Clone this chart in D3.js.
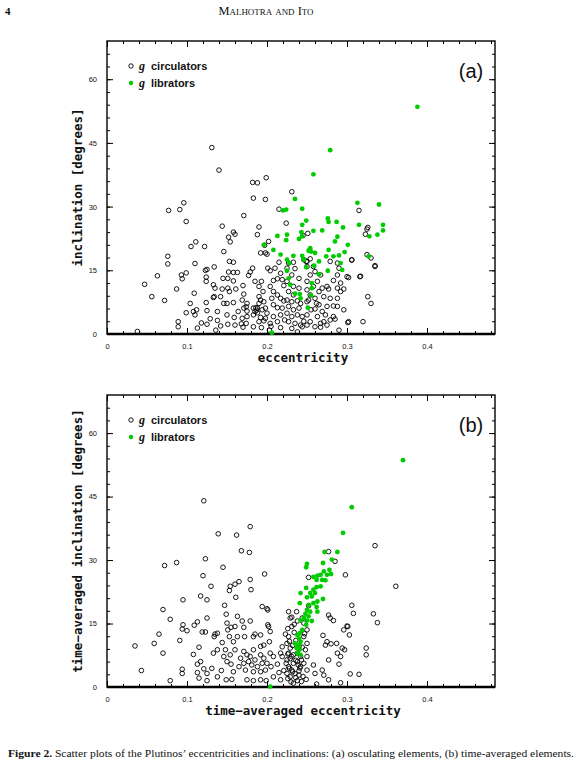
<!DOCTYPE html>
<html>
<head>
<meta charset="utf-8">
<script src="https://cdn.jsdelivr.net/npm/d3@7"></script>
<style>
  body { margin: 0; background: #fff; }
  svg text { fill: #111; }
</style>
</head>
<body>
<div id="page"></div>
<script>
// osculating elements, panel (a): [eccentricity, inclination]
const oscCirculators = [
  [.131,43.9],[.140,38.6],[.182,35.7],[.188,35.6],[.199,36.8],[.231,33.5],[.183,32.0],[.198,31.7],
  [.077,29.1],[.091,29.3],[.096,30.9],[.099,26.5],[.171,27.9],[.215,29.4],[.224,26.1],[.190,25.2],
  [.188,23.4],[.144,25.4],[.158,24.0],[.160,23.5],[.152,22.8],[.154,21.7],[.111,21.7],[.105,20.6],
  [.122,20.6],[.202,21.8],[.197,20.9],[.198,19.1],[.200,18.8],[.146,19.4],[.076,18.3],[.076,16.5],
  [.110,16.6],[.153,17.1],[.158,16.9],[.134,15.8],[.123,15.0],[.125,15.2],[.124,13.4],[.093,13.9],
  [.099,14.4],[.094,13.0],[.063,13.7],[.047,11.7],[.056,8.8],[.072,7.9],[.087,10.6],[.109,9.6],
  [.089,2.9],[.089,1.7],[.038,0.6],[.099,5.0],[.104,7.2],[.108,5.3],[.112,5.7],[.110,4.5],
  [.118,2.6],[.125,2.3],[.113,1.4],[.124,7.4],[.125,5.5],[.133,8.6],[.134,8.8],[.135,10.8],
  [.133,11.6],[.124,12.4],[.138,5.3],[.138,3.2],[.136,0.9],[.145,13.1],[.151,13.1],[.158,14.5],
  [.163,14.5],[.152,14.6],[.144,10.6],[.151,10.8],[.153,10.0],[.161,10.6],[.146,7.2],[.142,8.8],
  [.150,7.2],[.158,7.4],[.150,4.5],[.159,3.9],[.151,2.3],[.160,2.1],[.170,1.6],[.158,12.5],
  [.170,11.4],[.171,9.4],[.169,8.0],[.175,7.2],[.171,6.1],[.174,6.4],[.175,5.4],[.183,6.1],
  [.185,5.3],[.183,4.5],[.175,4.1],[.169,3.7],[.174,2.5],[.183,1.7],[.193,1.5],[.182,15.5],
  [.179,14.6],[.177,13.8],[.185,12.4],[.193,12.4],[.190,11.2],[.195,10.0],[.190,8.8],[.192,8.0],
  [.196,7.6],[.190,7.2],[.188,6.1],[.194,5.7],[.198,6.1],[.200,4.9],[.192,3.9],[.198,3.7],
  [.190,2.9],[.201,15.5],[.204,14.9],[.210,15.5],[.215,16.9],[.217,14.3],[.213,13.0],[.208,12.6],
  [.219,12.8],[.221,11.4],[.204,11.2],[.208,10.0],[.213,9.2],[.206,8.4],[.217,8.4],[.221,7.8],
  [.208,6.9],[.213,6.2],[.219,6.1],[.217,4.5],[.208,4.1],[.213,2.9],[.204,2.5],[.217,1.5],
  [.203,0.9],[.227,16.7],[.233,16.9],[.225,15.5],[.235,15.4],[.231,13.9],[.240,13.1],[.225,12.4],
  [.233,11.2],[.240,10.8],[.227,10.0],[.233,9.2],[.225,8.0],[.231,7.6],[.238,7.8],[.242,7.2],
  [.227,6.5],[.233,5.7],[.240,6.1],[.225,4.9],[.231,4.1],[.238,4.5],[.244,4.1],[.227,2.9],
  [.235,2.5],[.242,2.1],[.231,1.3],[.250,17.1],[.254,17.7],[.246,17.5],[.250,15.9],[.258,15.9],
  [.260,14.7],[.254,13.9],[.267,13.9],[.250,12.4],[.263,12.4],[.258,11.2],[.269,10.8],[.275,11.2],
  [.250,10.4],[.265,10.0],[.277,10.6],[.254,9.2],[.260,8.4],[.271,8.8],[.279,8.4],[.250,7.6],
  [.265,6.9],[.275,6.5],[.283,6.6],[.288,6.5],[.255,5.7],[.260,5.9],[.269,5.3],[.250,4.5],
  [.263,4.1],[.273,4.5],[.283,4.1],[.254,2.9],[.267,2.5],[.250,2.1],[.260,1.7],[.275,2.1],
  [.244,1.7],[.290,0.9],[.267,1.6],[.285,3.5],[.279,17.1],[.288,16.7],[.290,15.5],[.288,13.9],
  [.283,12.6],[.292,12.0],[.300,13.5],[.302,13.3],[.288,10.8],[.292,10.0],[.296,10.6],[.288,8.4],
  [.296,5.7],[.302,2.9],[.306,17.4],[.317,13.6],[.320,2.9],[.326,8.8],[.330,7.2],[.325,18.7],
  [.330,17.9],[.335,16.1],[.335,15.9],[.315,29.1],[.323,23.5],[.326,25.1],[.251,23.7],[.245,23.2],
  [.192,19.1],[.249,17.1],[.325,24.7],[.306,17.5],[.316,13.5],[.301,2.7],
  [.186,6.2],[.187,5.6],[.188,5.0],[.196,3.1],[.205,1.8],[.222,3.3],[.238,0.5],[.246,3.0],
  [.252,8.0],[.262,7.2],[.271,2.9],[.279,3.3],[.164,5.3],[.168,2.4],[.142,1.9],[.129,3.6]
];
const oscLibrators = [
  [.279,43.3],[.258,37.6],[.235,31.8],[.244,29.5],[.220,29.1],[.224,29.3],[.249,26.7],[.244,25.7],
  [.276,27.2],[.277,26.4],[.287,26.4],[.295,25.1],[.313,30.9],[.340,30.5],[.315,25.7],[.345,25.7],
  [.345,24.4],[.338,23.4],[.328,23.0],[.269,24.4],[.258,24.3],[.243,24.0],[.244,23.0],[.240,22.4],
  [.225,23.4],[.224,22.1],[.213,23.1],[.196,21.0],[.208,19.8],[.217,18.7],[.225,17.5],[.228,16.7],
  [.233,18.4],[.244,18.4],[.254,20.2],[.255,19.4],[.252,19.6],[.260,19.1],[.265,17.1],[.274,18.3],
  [.277,19.8],[.283,18.3],[.290,18.5],[.297,19.3],[.301,21.0],[.285,21.8],[.288,22.9],[.292,16.7],
  [.294,15.1],[.276,14.9],[.265,14.1],[.259,16.1],[.249,15.7],[.246,17.5],[.225,14.9],[.227,13.1],
  [.229,11.6],[.235,9.5],[.241,9.4],[.242,8.4],[.256,10.8],[.255,9.1],[.251,6.2],[.256,12.0],
  [.327,18.3],[.206,0.3],[.388,53.5]
];

// time-averaged elements, panel (b)
const avgCirculators = [
  [.121,44.0],[.139,36.2],[.162,35.9],[.179,37.9],[.168,32.2],[.178,31.8],[.123,30.3],[.087,29.4],
  [.072,28.7],[.145,28.3],[.197,26.7],[.120,26.3],[.130,23.8],[.160,24.3],[.165,24.9],[.154,23.8],
  [.153,22.8],[.179,25.4],[.180,23.0],[.117,21.5],[.125,20.6],[.161,21.2],[.095,20.6],[.070,18.3],
  [.079,16.0],[.147,19.3],[.125,16.3],[.113,15.4],[.119,13.0],[.123,13.0],[.109,14.6],[.095,14.7],
  [.094,13.7],[.100,13.3],[.091,11.0],[.065,12.5],[.059,10.3],[.070,8.0],[.035,9.7],[.043,3.9],
  [.079,1.5],[.094,4.2],[.094,3.2],[.108,7.7],[.115,9.4],[.113,5.4],[.117,6.0],[.113,3.4],
  [.115,2.1],[.125,3.2],[.125,1.5],[.121,4.3],[.131,4.4],[.134,11.9],[.138,12.7],[.135,12.5],
  [.133,8.0],[.138,8.8],[.144,10.5],[.148,8.8],[.146,7.2],[.143,3.9],[.138,2.4],[.149,1.7],
  [.156,1.8],[.150,15.1],[.151,13.5],[.155,14.1],[.160,14.3],[.153,11.9],[.163,11.9],[.158,10.7],
  [.149,17.2],[.163,16.7],[.169,15.6],[.171,14.1],[.172,11.9],[.179,15.6],[.183,11.9],[.185,12.5],
  [.192,12.3],[.194,19.0],[.200,18.5],[.201,18.2],[.201,14.7],[.202,14.3],[.204,13.1],[.192,9.6],
  [.196,9.9],[.203,10.7],[.171,8.4],[.175,7.6],[.183,8.8],[.179,7.2],[.185,6.4],[.192,7.6],
  [.196,6.8],[.167,6.8],[.171,5.6],[.177,6.0],[.181,5.2],[.188,4.8],[.194,5.6],[.200,5.6],
  [.165,4.8],[.173,4.0],[.183,3.6],[.192,3.6],[.198,4.0],[.175,1.7],[.183,1.5],[.192,1.7],
  [.199,1.5],[.160,8.8],[.154,7.6],[.150,6.0],[.155,5.4],[.158,3.6],[.204,8.0],[.208,7.2],
  [.205,4.8],[.213,5.4],[.217,8.0],[.219,7.2],[.215,3.4],[.208,2.4],[.217,1.7],[.225,3.2],
  [.227,17.8],[.229,16.3],[.231,14.3],[.227,11.9],[.225,10.3],[.229,9.2],[.227,8.0],[.231,7.2],
  [.225,6.4],[.233,5.6],[.227,4.8],[.231,4.0],[.235,3.2],[.229,2.4],[.238,1.5],[.233,0.9],
  [.244,16.3],[.246,15.1],[.250,13.5],[.246,11.9],[.250,10.3],[.248,8.8],[.250,7.2],[.246,5.6],
  [.250,4.0],[.249,1.8],[.240,9.6],[.238,8.0],[.242,7.2],[.238,6.0],[.242,4.8],[.240,2.8],
  [.252,19.2],[.252,25.9],[.258,5.2],[.260,3.2],[.262,0.7],[.269,4.0],[.270,12.2],[.273,9.9],
  [.275,10.7],[.277,17.0],[.279,16.3],[.283,15.7],[.280,10.2],[.287,10.3],[.288,8.0],[.292,7.2],
  [.290,5.4],[.277,6.4],[.271,2.8],[.277,1.7],[.292,1.0],[.296,13.5],[.301,14.3],[.300,14.4],
  [.294,9.2],[.297,8.8],[.303,12.3],[.298,26.5],[.306,19.3],[.308,17.4],[.304,3.1],[.315,3.0],
  [.324,9.2],[.324,7.6],[.333,17.3],[.338,15.2],[.335,33.4],[.285,29.7],[.277,32.0],[.361,23.8],
  [.223,12.5],[.226,13.8],[.228,10.8],[.232,9.8],[.234,12.9],[.236,11.0],[.226,7.8],[.229,6.7],
  [.233,7.6],[.236,6.3],[.239,5.2],[.224,5.6],[.228,4.4],[.232,3.6],[.236,2.2],[.240,3.8],
  [.243,6.4],[.244,9.4],[.226,2.0],[.230,1.2],[.221,3.9],[.219,9.5],[.234,14.8],[.238,15.6],
  [.241,4.5],[.245,2.5],[.247,12.6],[.231,16.5],[.237,17.8],[.243,1.3]
];
const avgLibrators = [
  [.306,42.5],[.295,36.4],[.272,31.9],[.288,31.9],[.281,30.1],[.278,27.7],[.280,26.7],[.275,26.5],
  [.271,27.3],[.270,29.3],[.267,26.5],[.263,26.3],[.258,26.0],[.262,25.3],[.250,29.1],[.249,28.3],
  [.269,25.3],[.273,25.2],[.267,23.8],[.262,23.6],[.258,23.0],[.254,22.2],[.260,22.2],[.256,21.4],
  [.250,21.2],[.249,23.4],[.242,22.2],[.270,20.8],[.263,20.2],[.258,19.8],[.252,19.4],[.262,18.9],
  [.263,17.8],[.241,19.8],[.250,18.2],[.254,17.8],[.248,17.3],[.252,16.7],[.246,16.3],[.242,15.7],
  [.250,15.7],[.256,15.6],[.249,14.7],[.244,13.5],[.241,12.7],[.238,12.3],[.240,11.5],[.242,10.7],
  [.235,10.3],[.240,9.9],[.237,9.2],[.241,8.9],[.238,8.0],[.242,7.6],[.204,0.1],[.370,53.6]
];

const xMajor = [0, 0.1, 0.2, 0.3, 0.4];
const yMajor = [0, 15, 30, 45, 60];
const legendLabels = ['circulators', 'librators'];

const W = 582, H = 771;
const svg = d3.select('#page').append('svg')
  .attr('width', W).attr('height', H);

// page header
svg.append('text').attr('x', 5).attr('y', 15)
  .attr('font-family', 'Liberation Serif').attr('font-size', 11).attr('font-weight', 'bold')
  .text('4');
svg.append('text').attr('x', 266).attr('y', 15).attr('text-anchor', 'middle')
  .attr('font-family', 'Liberation Serif').attr('font-size', 12.5)
  .attr('textLength', 95).attr('lengthAdjust', 'spacingAndGlyphs')
  .style('font-variant', 'small-caps')
  .text('Malhotra and Ito');

function drawPanel(cfg) {
  const left = 107, right = 495;
  const x = d3.scaleLinear().domain([0, 0.485]).range([left, right]);
  const y = d3.scaleLinear().domain([0, 69]).range([cfg.bottom, cfg.top]);
  const g = svg.append('g');
  const xMinor = d3.range(0, 0.485, 0.02);
  const yMinor = d3.range(0, 69, 3);
  const fmt = d => d === 0 ? '0' : d.toFixed(1);

  const axes = [
    [d3.axisBottom(x).tickValues(xMajor).tickSizeInner(-6).tickPadding(10).tickFormat(fmt), `translate(0,${cfg.bottom})`],
    [d3.axisBottom(x).tickValues(xMinor).tickSizeInner(-3).tickFormat(''), `translate(0,${cfg.bottom})`],
    [d3.axisTop(x).tickValues(xMajor).tickSizeInner(-6).tickFormat(''), `translate(0,${cfg.top})`],
    [d3.axisTop(x).tickValues(xMinor).tickSizeInner(-3).tickFormat(''), `translate(0,${cfg.top})`],
    [d3.axisLeft(y).tickValues(yMajor).tickSizeInner(-6).tickPadding(10), `translate(${left},0)`],
    [d3.axisLeft(y).tickValues(yMinor).tickSizeInner(-3).tickFormat(''), `translate(${left},0)`],
    [d3.axisRight(y).tickValues(yMajor).tickSizeInner(-6).tickFormat(''), `translate(${right},0)`],
    [d3.axisRight(y).tickValues(yMinor).tickSizeInner(-3).tickFormat(''), `translate(${right},0)`]
  ];
  axes.forEach(([ax, tr]) => {
    const a = g.append('g').attr('transform', tr).call(ax.tickSizeOuter(0));
    a.select('.domain').remove();
    a.selectAll('line').attr('stroke', '#000').attr('stroke-width', 1);
    a.selectAll('text').attr('font-family', 'Liberation Sans').attr('font-size', 7.5).attr('fill', '#333');
  });

  // frame
  g.append('rect').attr('x', left).attr('y', cfg.top)
    .attr('width', right - left).attr('height', cfg.bottom - cfg.top)
    .attr('fill', 'none').attr('stroke', '#000').attr('stroke-width', 1.4);
  g.append('line').attr('x1', left).attr('x2', right)
    .attr('y1', cfg.bottom).attr('y2', cfg.bottom)
    .attr('stroke', '#000').attr('stroke-width', 2.4);

  g.append('g').selectAll('circle').data(cfg.circ).enter().append('circle')
    .attr('cx', d => x(d[0])).attr('cy', d => y(d[1])).attr('r', 2.3)
    .attr('fill', 'none').attr('stroke', '#000').attr('stroke-width', 0.9);
  g.append('g').selectAll('circle').data(cfg.lib).enter().append('circle')
    .attr('cx', d => x(d[0])).attr('cy', d => y(d[1])).attr('r', 2.4)
    .attr('fill', '#0c0');

  // legend
  const ly = [cfg.top + 25, cfg.top + 42];
  legendLabels.forEach((lab, k) => {
    const c = g.append('circle').attr('cx', 131).attr('cy', ly[k]);
    if (k === 0) c.attr('r', 2.2).attr('fill', 'none').attr('stroke', '#000').attr('stroke-width', 0.9);
    else c.attr('r', 2.2).attr('fill', '#0c0');
    const t = g.append('text').attr('x', 139).attr('y', ly[k] + 4)
      .attr('font-family', 'Liberation Sans').attr('font-size', 11).attr('font-weight', 'bold');
    t.append('tspan').attr('font-style', 'italic').attr('font-family', 'Liberation Serif').attr('font-size', 12).text('g');
    t.append('tspan').attr('dx', 6).text(lab);
  });

  g.append('text').attr('x', 471).attr('y', cfg.top + 37).attr('text-anchor', 'middle')
    .attr('font-family', 'Liberation Sans').attr('font-size', 20).text(cfg.tag);

  g.append('text').attr('x', 303).attr('y', cfg.bottom + 28).attr('text-anchor', 'middle')
    .attr('font-family', 'DejaVu Sans Mono').attr('font-size', 12.5).attr('font-weight', 'bold')
    .text(cfg.xTitle);
  g.append('text').attr('transform', `translate(82,${(cfg.top + cfg.bottom) / 2}) rotate(-90)`)
    .attr('text-anchor', 'middle')
    .attr('font-family', 'DejaVu Sans Mono').attr('font-size', 12.5).attr('font-weight', 'bold')
    .text(cfg.yTitle);
}

drawPanel({ top: 41, bottom: 334, circ: oscCirculators, lib: oscLibrators, tag: '(a)',
  xTitle: 'eccentricity', yTitle: 'inclination [degrees]' });
drawPanel({ top: 395, bottom: 687, circ: avgCirculators, lib: avgLibrators, tag: '(b)',
  xTitle: 'time\u2212averaged eccentricity', yTitle: 'time\u2212averaged inclination [degrees]' });

// caption
const cap = svg.append('text').attr('x', 8).attr('y', 757)
  .attr('font-family', 'Liberation Serif').attr('font-size', 10.8)
  .attr('textLength', 566).attr('lengthAdjust', 'spacingAndGlyphs');
cap.append('tspan').attr('font-weight', 'bold').text('Figure 2.');
cap.append('tspan').text(' Scatter plots of the Plutinos\u2019 eccentricities and inclinations: (a) osculating elements, (b) time-averaged elements.');
</script>
</body>
</html>
